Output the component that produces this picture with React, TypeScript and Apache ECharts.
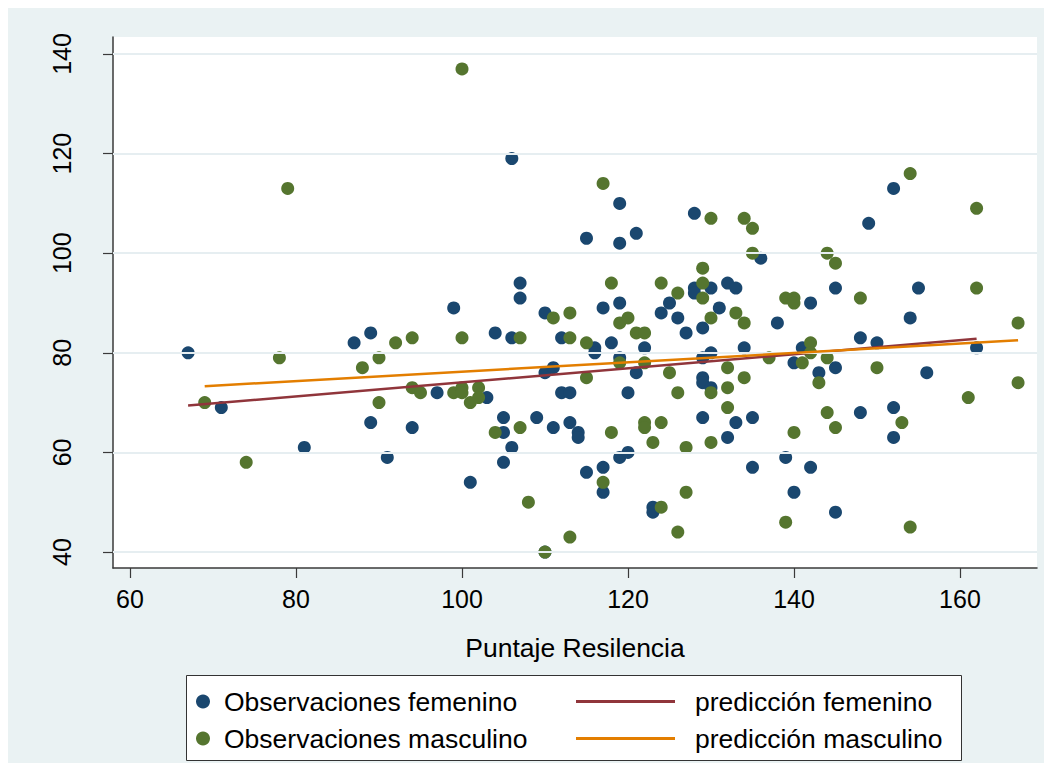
import { useEffect, useRef } from "react";
import * as echarts from "echarts";

const X_TICKS = [60, 80, 100, 120, 140, 160];
const Y_TICKS = [40, 60, 80, 100, 120, 140];

// [Puntaje Resilencia, valor]
const OBS_FEMENINO: [number, number][] = [
  [67, 80], [71, 69], [81, 61], [87, 82], [89, 84], [89, 66], [91, 59], [94, 65],
  [97, 72], [99, 89], [101, 54], [103, 71], [104, 84], [105, 67], [105, 64], [105, 58],
  [106, 119], [106, 83], [106, 61], [107, 94], [107, 91], [109, 67], [110, 88], [110, 76],
  [110, 40], [111, 77], [111, 65], [112, 83], [112, 72], [113, 72], [113, 66], [114, 64],
  [114, 63], [115, 103], [115, 56], [116, 81], [116, 80], [117, 89], [117, 57], [117, 52],
  [118, 82], [119, 110], [119, 102], [119, 90], [119, 79], [119, 59], [120, 72], [120, 60],
  [121, 104], [121, 76], [122, 81], [123, 49], [123, 48], [124, 88], [125, 90], [126, 87],
  [127, 84], [128, 108], [128, 93], [128, 92], [129, 85], [129, 79], [129, 75], [129, 74],
  [129, 67], [130, 93], [130, 80], [130, 73], [131, 89], [132, 94], [132, 63], [133, 93],
  [133, 66], [134, 81], [135, 67], [135, 57], [136, 99], [138, 86], [139, 59], [140, 78],
  [140, 52], [141, 81], [142, 90], [142, 57], [143, 76], [145, 93], [145, 77], [145, 48],
  [148, 83], [148, 68], [149, 106], [150, 82], [152, 113], [152, 69], [152, 63], [154, 87],
  [155, 93], [156, 76], [162, 81],
];

const OBS_MASCULINO: [number, number][] = [
  [69, 70], [74, 58], [78, 79], [79, 113], [88, 77], [90, 79], [90, 70], [92, 82],
  [94, 83], [94, 73], [95, 72], [99, 72], [100, 137], [100, 83], [100, 73], [100, 72],
  [101, 70], [102, 73], [102, 71], [104, 64], [107, 83], [107, 65], [108, 50], [110, 40],
  [111, 87], [113, 88], [113, 83], [113, 43], [115, 82], [115, 75], [117, 114], [117, 54],
  [118, 94], [118, 64], [119, 86], [119, 78], [120, 87], [121, 84], [122, 84], [122, 78],
  [122, 66], [122, 65], [123, 62], [124, 94], [124, 66], [124, 49], [125, 76], [126, 92],
  [126, 72], [126, 44], [127, 61], [127, 52], [129, 97], [129, 94], [129, 91], [130, 107],
  [130, 87], [130, 72], [130, 62], [132, 77], [132, 73], [132, 69], [133, 88], [134, 107],
  [134, 86], [134, 75], [135, 105], [135, 100], [137, 79], [139, 91], [139, 46], [140, 91],
  [140, 90], [140, 64], [141, 78], [142, 82], [142, 80], [143, 74], [144, 100], [144, 79],
  [144, 68], [145, 98], [145, 65], [148, 91], [150, 77], [153, 66], [154, 116], [154, 45],
  [161, 71], [162, 109], [162, 93], [167, 86], [167, 74],
];

// rectas ajustadas (extremos)
const PRED_FEMENINO: [number, number][] = [[67, 69.4], [162, 82.8]];
const PRED_MASCULINO: [number, number][] = [[69, 73.3], [167, 82.5]];

const NAVY = "#1a476f";
const GREEN = "#55752f";
const MAROON = "#90353b";
const ORANGE = "#e37e00";
const BG = "#eaf2f3";
const AXIS = "#3a3a3a";
const FONT = "'Liberation Sans', Arial, Helvetica, sans-serif";

export default function App() {
  const ref = useRef<HTMLDivElement>(null);

  useEffect(() => {
    if (!ref.current) return;
    const chart = echarts.init(ref.current, undefined, { renderer: "svg" });
    chart.setOption({
      animation: false,
      backgroundColor: BG,
      textStyle: { fontFamily: FONT },
      grid: {
        left: 105,
        top: 29,
        right: 7,
        bottom: 195,
        show: true,
        backgroundColor: "#ffffff",
        borderWidth: 0,
      },
      xAxis: {
        type: "value",
        min: 57.95,
        max: 169.28,
        name: "Puntaje Resilencia",
        nameLocation: "middle",
        nameGap: 66,
        nameTextStyle: { fontSize: 26.5, color: "#000", fontFamily: FONT },
        axisLine: { show: true, onZero: false, lineStyle: { color: AXIS, width: 1.5 } },
        axisTick: { show: true, length: 10, customValues: X_TICKS, lineStyle: { color: AXIS, width: 1.2 } },
        axisLabel: {
          customValues: X_TICKS,
          fontSize: 25,
          color: "#000",
          margin: 18,
          fontFamily: FONT,
        },
        splitLine: { show: false },
      },
      yAxis: {
        type: "value",
        min: 36.79,
        max: 143.41,
        axisLine: { show: true, onZero: false, lineStyle: { color: AXIS, width: 1.5 } },
        axisTick: { show: true, length: 10, customValues: Y_TICKS, lineStyle: { color: AXIS, width: 1.2 } },
        axisLabel: {
          customValues: Y_TICKS,
          fontSize: 25,
          color: "#000",
          rotate: 90,
          margin: 39,
          fontFamily: FONT,
        },
        splitLine: { show: false },
      },
      legend: [
        {
          data: ["Observaciones femenino", "Observaciones masculino"],
          orient: "vertical",
          left: 183,
          top: 675,
          itemWidth: 14,
          itemHeight: 14,
          itemGap: 10,
          selectedMode: false,
          itemStyle: { opacity: 1 },
          textStyle: { fontSize: 26.5, color: "#000", fontFamily: FONT, padding: [0, 0, 0, 9] },
        },
        {
          data: ["predicción femenino", "predicción masculino"],
          orient: "vertical",
          left: 563,
          top: 675,
          icon: "rect",
          itemWidth: 99,
          itemHeight: 3,
          itemGap: 10,
          selectedMode: false,
          textStyle: { fontSize: 26.5, color: "#000", fontFamily: FONT, padding: [0, 0, 0, 15] },
        },
      ],
      graphic: [
        {
          type: "rect",
          left: 178,
          top: 667,
          z: 0,
          shape: { width: 775, height: 85 },
          style: { fill: "#ffffff", stroke: "#333333", lineWidth: 1 },
        },
      ],
      series: [
        {
          name: "grid",
          type: "line",
          data: [],
          z: 1,
          silent: true,
          markLine: {
            silent: true,
            symbol: ["none", "none"],
            label: { show: false },
            lineStyle: { color: "#e6eef1", width: 2, type: "solid" },
            data: Y_TICKS.map((v) => ({ yAxis: v })),
          },
        },
        {
          name: "Observaciones femenino",
          type: "scatter",
          data: OBS_FEMENINO,
          symbol: "circle",
          symbolSize: 13,
          itemStyle: { color: NAVY, opacity: 1 },
          z: 2,
        },
        {
          name: "Observaciones masculino",
          type: "scatter",
          data: OBS_MASCULINO,
          symbol: "circle",
          symbolSize: 13,
          itemStyle: { color: GREEN, opacity: 1 },
          z: 3,
        },
        {
          name: "predicción femenino",
          type: "line",
          data: PRED_FEMENINO,
          symbol: "none",
          lineStyle: { color: MAROON, width: 2.5 },
          itemStyle: { color: MAROON },
          z: 4,
        },
        {
          name: "predicción masculino",
          type: "line",
          data: PRED_MASCULINO,
          symbol: "none",
          lineStyle: { color: ORANGE, width: 2.5 },
          itemStyle: { color: ORANGE },
          z: 5,
        },
      ],
    });
    return () => chart.dispose();
  }, []);

  return <div ref={ref} style={{ width: 1036, height: 755 }} />;
}
